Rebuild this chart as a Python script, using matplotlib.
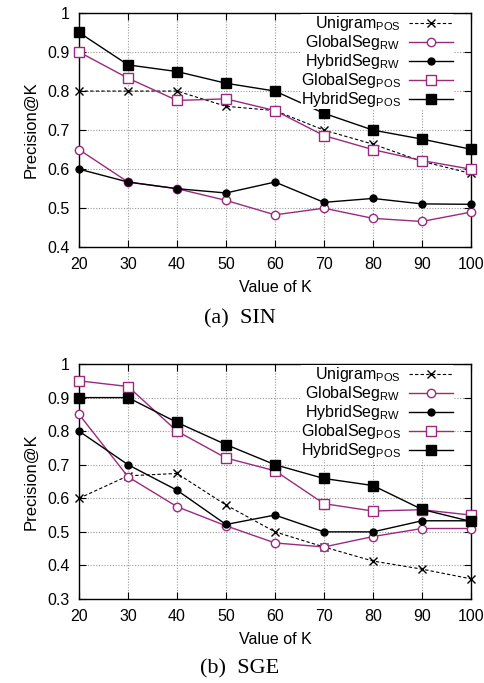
import matplotlib as mpl
import matplotlib.pyplot as plt
from matplotlib.ticker import FuncFormatter, MultipleLocator

mpl.rcParams["font.family"] = ["Liberation Sans", "DejaVu Sans"]
mpl.rcParams["mathtext.default"] = "regular"
mpl.rcParams["axes.linewidth"] = 1.0

# --- data ---
k_values = [20, 30, 40, 50, 60, 70, 80, 90, 100]

series_names = [
    r"Unigram$_{POS}$",
    r"GlobalSeg$_{RW}$",
    r"HybridSeg$_{RW}$",
    r"GlobalSeg$_{POS}$",
    r"HybridSeg$_{POS}$",
]

# (a) SIN
sin_unigram_pos = [0.80, 0.80, 0.80, 0.761, 0.75, 0.70, 0.664, 0.62, 0.589]
sin_globalseg_rw = [0.65, 0.567, 0.55, 0.52, 0.483, 0.50, 0.474, 0.466, 0.49]
sin_hybridseg_rw = [0.60, 0.567, 0.55, 0.539, 0.567, 0.515, 0.525, 0.511, 0.51]
sin_globalseg_pos = [0.90, 0.833, 0.776, 0.78, 0.75, 0.686, 0.65, 0.622, 0.60]
sin_hybridseg_pos = [0.95, 0.867, 0.85, 0.82, 0.80, 0.743, 0.70, 0.677, 0.651]

# (b) SGE
sge_unigram_pos = [0.60, 0.667, 0.674, 0.58, 0.50, 0.455, 0.413, 0.389, 0.36]
sge_globalseg_rw = [0.85, 0.664, 0.575, 0.518, 0.467, 0.455, 0.486, 0.51, 0.51]
sge_hybridseg_rw = [0.80, 0.70, 0.624, 0.522, 0.55, 0.50, 0.50, 0.533, 0.533]
sge_globalseg_pos = [0.95, 0.933, 0.80, 0.72, 0.682, 0.584, 0.562, 0.566, 0.55]
sge_hybridseg_pos = [0.90, 0.90, 0.826, 0.76, 0.70, 0.659, 0.638, 0.567, 0.531]

purple = "#9a2a7f"
styles = [
    dict(color="black", ls=(0, (3, 2)), lw=0.8, marker="x", ms=5.5, mew=1.0),
    dict(color=purple, ls="-", lw=1.0, marker="o", ms=6, mfc="white", mew=1.0),
    dict(color="black", ls="-", lw=1.0, marker="o", ms=5),
    dict(color=purple, ls="-", lw=1.0, marker="s", ms=6.5, mfc="white", mew=1.0),
    dict(color="black", ls="-", lw=1.0, marker="s", ms=6.5),
]

fig = plt.figure(figsize=(4.85, 6.83), dpi=100)
ax_a = fig.add_axes([0.163, 0.638, 0.808, 0.343])
ax_b = fig.add_axes([0.163, 0.123, 0.808, 0.344])

panels = [
    (ax_a, [sin_unigram_pos, sin_globalseg_rw, sin_hybridseg_rw,
            sin_globalseg_pos, sin_hybridseg_pos], (0.4, 1.0), "(a)  SIN", 0.519),
    (ax_b, [sge_unigram_pos, sge_globalseg_rw, sge_hybridseg_rw,
            sge_globalseg_pos, sge_hybridseg_pos], (0.3, 1.0), "(b)  SGE", 0.006),
]

for ax, data, ylim, caption, cap_y in panels:
    for name, vals, st in zip(series_names, data, styles):
        ax.plot(k_values, vals, label=name, clip_on=False, zorder=3, **st)
    ax.set_xlim(20, 100)
    ax.set_ylim(*ylim)
    ax.xaxis.set_major_locator(MultipleLocator(10))
    ax.yaxis.set_major_locator(MultipleLocator(0.1))
    ax.yaxis.set_major_formatter(FuncFormatter(lambda v, p: f"{v:g}"))
    ax.grid(True, color="#999999", ls=(0, (1, 1.5)), lw=0.8)
    ax.set_axisbelow(True)
    ax.tick_params(direction="in", top=True, right=True, length=5, width=0.8,
                   labelsize=11.5, pad=7)
    ax.set_xlabel("Value of K", fontsize=11.5, labelpad=6)
    ax.set_ylabel("Precision@K", fontsize=12, labelpad=6)
    leg = ax.legend(loc="upper right", markerfirst=False, frameon=True,
                    fontsize=11.5, handlelength=2.8, labelspacing=0.0,
                    handletextpad=0.5, borderaxespad=0.0, borderpad=0.0,
                    bbox_to_anchor=(0.955, 0.995), fancybox=False)
    leg.get_frame().set_facecolor("white")
    leg.get_frame().set_edgecolor("none")
    leg.get_frame().set_alpha(1.0)
    fig.text(0.495, cap_y, caption, family="Liberation Serif", fontsize=16,
             ha="center", va="bottom")

fig.savefig("out.png", dpi=100, facecolor="white")
plt.close(fig)
